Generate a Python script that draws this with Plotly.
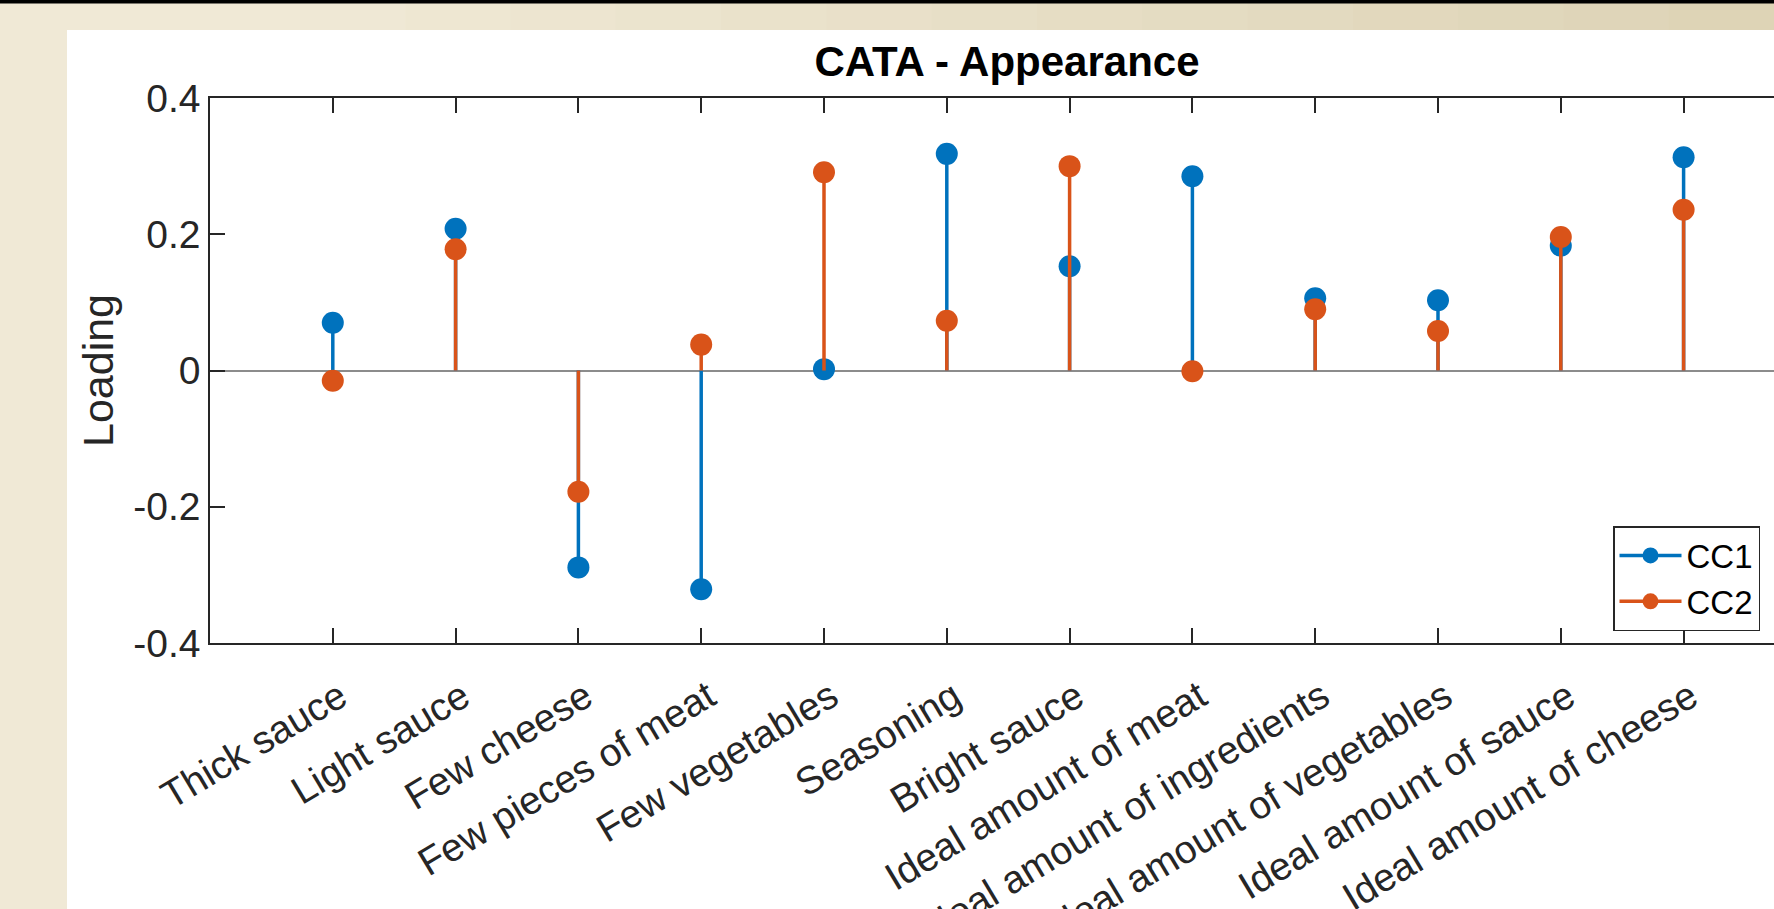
import plotly.graph_objects as go

# ---- data ----
categories = [
    "Thick sauce", "Light sauce", "Few cheese", "Few pieces of meat",
    "Few vegetables", "Seasoning", "Bright sauce", "Ideal amount of meat",
    "Ideal amount of ingredients", "Ideal amount of vegetables",
    "Ideal amount of sauce", "Ideal amount of cheese",
]
cc1 = [0.070, 0.208, -0.289, -0.321, 0.002, 0.318, 0.153, 0.285, 0.106, 0.103, 0.183, 0.313]
cc2 = [-0.015, 0.178, -0.178, 0.038, 0.291, 0.073, 0.300, -0.001, 0.090, 0.058, 0.196, 0.236]
series_names = ["CC1", "CC2"]
y_ticks = [-0.4, -0.2, 0, 0.2, 0.4]
y_tick_labels = ["-0.4", "-0.2", "0", "0.2", "0.4"]

BLUE = "#0072BD"
ORANGE = "#D95319"
AXC = "#262626"
FONT = "Liberation Sans, Arial, Helvetica, sans-serif"

W, H = 1774, 909
L, R, T, B = 210, 0, 98, 266
pw = W - L - R
ph = H - T - B

def px_x(px):
    return (px - L) / pw

def px_y(py):
    return (H - B - py) / ph

xpos = list(range(1, len(categories) + 1))

fig = go.Figure()

for name, vals, col in [(series_names[0], cc1, BLUE), (series_names[1], cc2, ORANGE)]:
    fig.add_trace(go.Scatter(
        x=xpos, y=vals, mode="markers", name=name, showlegend=False,
        marker=dict(size=22, color=col, line=dict(width=0)),
        error_y=dict(
            type="data", symmetric=False,
            array=[max(-v, 0) for v in vals],
            arrayminus=[max(v, 0) for v in vals],
            thickness=3.5, width=0, color=col,
        ),
        cliponaxis=False,
    ))

# legend entries (line + marker glyph)
for name, col in [(series_names[0], BLUE), (series_names[1], ORANGE)]:
    fig.add_trace(go.Scatter(
        x=[None], y=[None], mode="lines+markers", name=name,
        line=dict(color=col, width=3.5),
        marker=dict(size=16, color=col),
    ))

shapes = []
# top band: subtle gradient from light beige to darker beige at right
c0 = (240, 233, 214)
c1 = (221, 211, 181)
steps = 14
x_start = 300
for i in range(steps):
    xa = x_start + (W - x_start) * i / steps
    xb = x_start + (W - x_start) * (i + 1) / steps
    t = (i + 0.5) / steps
    col = tuple(round(c0[k] + (c1[k] - c0[k]) * t) for k in range(3))
    shapes.append(dict(type="rect", xref="paper", yref="paper",
                       x0=px_x(xa), x1=px_x(xb + 1), y0=px_y(30), y1=px_y(0),
                       fillcolor="rgb(%d,%d,%d)" % col, line=dict(width=0), layer="below"))
shapes += [
    # white slide panel
    dict(type="rect", xref="paper", yref="paper",
         x0=px_x(67), x1=px_x(1800), y0=px_y(930), y1=px_y(30),
         fillcolor="white", line=dict(width=0), layer="below"),
    # black top strip
    dict(type="rect", xref="paper", yref="paper",
         x0=px_x(-10), x1=px_x(1800), y0=px_y(3.5), y1=px_y(-5),
         fillcolor="black", line=dict(width=0), layer="below"),
]

fig.update_layout(
    width=W, height=H,
    margin=dict(l=L, r=R, t=T, b=B, autoexpand=False),
    paper_bgcolor="rgb(240,233,214)",
    plot_bgcolor="white",
    font=dict(family=FONT, color=AXC, size=39),
    shapes=shapes,
    title=dict(
        text="<b>CATA - Appearance</b>",
        font=dict(family=FONT, size=42, color="black"),
        x=px_x(1007), xref="paper", xanchor="center",
        y=1 - 61 / H, yref="container", yanchor="middle",
    ),
    xaxis=dict(
        range=[0, (W - R - L) / 122.8],
        tickmode="array", tickvals=xpos, ticktext=categories,
        tickangle=-31,
        ticks="inside", ticklen=15, tickwidth=1.5, tickcolor=AXC,
        showline=True, linecolor=AXC, linewidth=1.5, mirror="ticks",
        showgrid=False, zeroline=False,
        tickfont=dict(family=FONT, size=39, color=AXC),
        ticklabelstandoff=14, ticklabelshift=7,
        automargin=False,
    ),
    yaxis=dict(
        range=[-0.4, 0.4],
        tickmode="array", tickvals=y_ticks, ticktext=y_tick_labels,
        ticks="inside", ticklen=15, tickwidth=1.5, tickcolor=AXC,
        showline=True, linecolor=AXC, linewidth=1.5, mirror=False,
        showgrid=False,
        zeroline=True, zerolinecolor="#8c8c8c", zerolinewidth=1.5,
        tickfont=dict(family=FONT, size=39, color=AXC),
        title=dict(text="Loading", font=dict(family=FONT, size=43, color=AXC), standoff=6),
        automargin=False,
    ),
    legend=dict(
        x=px_x(1613), y=px_y(526), xanchor="left", yanchor="top",
        bgcolor="white", bordercolor=AXC, borderwidth=1.5,
        font=dict(family=FONT, size=33, color="black"),
        itemsizing="trace", tracegroupgap=0, itemwidth=62,
    ),
)

fig.write_html(
    "out.html",
    config={"displayModeBar": False},
    post_script="document.body.style.margin='0px';document.body.style.overflow='hidden';",
)
